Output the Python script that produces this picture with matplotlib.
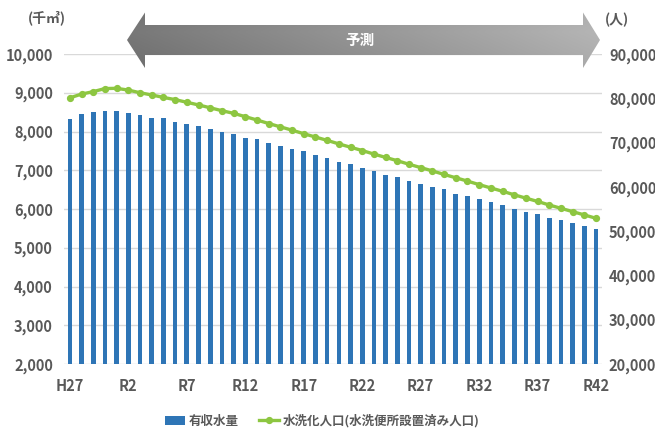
import matplotlib
matplotlib.use("Agg")
import matplotlib.pyplot as plt
import numpy as np
from matplotlib.patches import Polygon

plt.rcParams['font.family'] = ['Noto Sans CJK JP', 'DejaVu Sans']

# Fiscal years H27 (2015) to R42 (2060)
years = ["H27", "H28", "H29", "H30"] + [f"R{i}" for i in range(1, 43)]
tick_labels = ["H27", "R2", "R7", "R12", "R17", "R22", "R27", "R32", "R37", "R42"]

# 有収水量 (thousand m3)
water_volume = [
    8320, 8455, 8500, 8530, 8530, 8480, 8430, 8360, 8345, 8250,
    8195, 8140, 8070, 7990, 7925, 7845, 7805, 7700, 7625, 7555,
    7505, 7400, 7310, 7225, 7170, 7060, 6985, 6890, 6820, 6735,
    6640, 6565, 6505, 6400, 6325, 6250, 6170, 6095, 6010, 5935,
    5865, 5780, 5705, 5635, 5565, 5480,
]

# 水洗化人口 (persons)
sewered_pop = [
    80100, 80950, 81500, 82200, 82250, 81850, 81250, 80750, 80200, 79700,
    79100, 78500, 77850, 77200, 76600, 75850, 75100, 74300, 73550, 72800,
    72000, 71250, 70500, 69700, 68950, 68200, 67400, 66650, 65900, 65100,
    64350, 63600, 62800, 62050, 61300, 60500, 59750, 59000, 58200, 57450,
    56700, 55900, 55150, 54400, 53650, 52900,
]

bar_color = "#2E75B6"
line_color = "#8DC641"
text_color = "#595959"
grid_color = "#D9D9D9"

fig = plt.figure(figsize=(6.55, 4.3), dpi=100)
ax = fig.add_axes([64 / 655, 1 - 364 / 430, (602 - 64) / 655, (364 - 54) / 430])

x = np.arange(len(years))
bars = ax.bar(x, water_volume, width=0.4, color=bar_color, zorder=2, label="有収水量")
ax.set_ylim(2000, 10000)
ax.set_xlim(-0.5, len(years) - 0.5)
ax.set_yticks(np.arange(2000, 10001, 1000))
ax.set_yticklabels([f"{v:,}" for v in range(2000, 10001, 1000)])
ax.yaxis.grid(True, color=grid_color, linewidth=1.0, zorder=0)
ax.set_axisbelow(True)
ax.set_xticks([years.index(t) for t in tick_labels])
ax.set_xticklabels(tick_labels)
for s in ax.spines.values():
    s.set_visible(False)
ax.tick_params(axis="y", length=0, pad=8, labelsize=10.5, labelcolor=text_color)
ax.tick_params(axis="x", length=0, pad=10, labelsize=10.5, labelcolor=text_color)

ax2 = ax.twinx()
line, = ax2.plot(x, sewered_pop, color=line_color, linewidth=2.4, marker="o",
                 markersize=4.2, zorder=3, label="水洗化人口(水洗便所設置済み人口)")
ax2.set_ylim(20000, 90000)
ax2.set_yticks(np.arange(20000, 90001, 10000))
ax2.set_yticklabels([f"{v:,}" for v in range(20000, 90001, 10000)])
for s in ax2.spines.values():
    s.set_visible(False)
ax2.tick_params(axis="y", length=0, pad=5, labelsize=10.5, labelcolor=text_color)

for lab in ax.get_yticklabels() + ax.get_xticklabels() + ax2.get_yticklabels():
    lab.set_fontweight("bold")

fig.text(47 / 655, 1 - 18 / 430, "(千㎥)", ha="center", va="center",
         fontsize=10, color=text_color, fontweight="bold")
fig.text(617 / 655, 1 - 20 / 430, "(人)", ha="center", va="center",
         fontsize=10, color=text_color, fontweight="bold")

leg = fig.legend([bars, line], ["有収水量", "水洗化人口(水洗便所設置済み人口)"],
                 loc="center", bbox_to_anchor=(322 / 655, 1 - 421 / 430), ncol=2,
                 frameon=False, fontsize=9, handlelength=1.6, columnspacing=1.6,
                 handletextpad=0.3)
for t in leg.get_texts():
    t.set_color(text_color)
    t.set_fontweight("bold")

# Forecast arrow spanning the projection period
ov = fig.add_axes([0, 0, 1, 1], zorder=5)
ov.set_xlim(0, 655)
ov.set_ylim(430, 0)
ov.axis("off")
ov.patch.set_alpha(0)
arrow_pts = [(127, 40), (145, 12.5), (145, 25), (583, 25), (583, 12.5),
             (600, 40), (583, 68), (583, 55), (145, 55), (145, 68)]
poly = Polygon(arrow_pts, closed=True, facecolor="none", edgecolor="none")
ov.add_patch(poly)
gx = np.linspace(0, 1, 256)
gy = np.linspace(0, 1, 32)
GX, GY = np.meshgrid(gx, gy)
shade = 0.44 + 0.24 * GX + 0.06 * (0.5 - np.abs(GY - 0.35))
img = ov.imshow(np.dstack([shade, shade, shade]), extent=(127, 600, 68, 12),
                aspect="auto", interpolation="bilinear", zorder=5)
img.set_clip_path(poly)
ov.text(360, 40, "予測", ha="center", va="center", color="white",
        fontsize=10.5, fontweight="bold", zorder=6)

fig.savefig("out.png", dpi=100)
